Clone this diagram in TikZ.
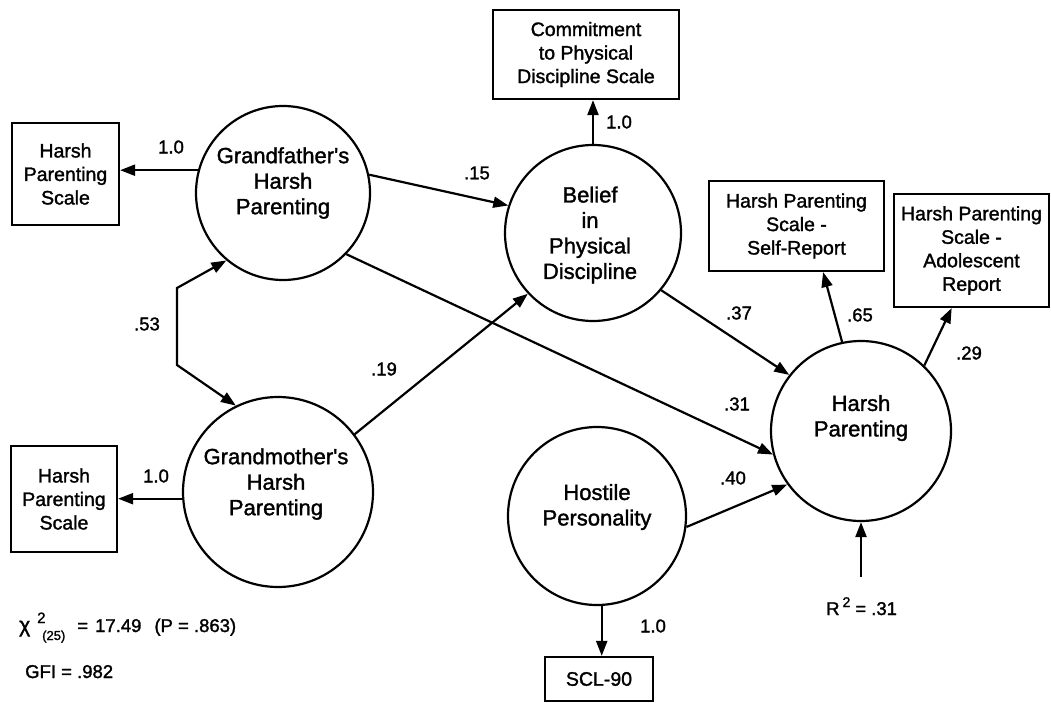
\documentclass[tikz,border=0pt]{standalone}
\usepackage{fontspec}
\setmainfont{Liberation Sans}
\newfontfamily\txtfont[FakeBold=1.5]{Liberation Sans}
\usetikzlibrary{arrows.meta,calc}
\begin{document}
\begin{tikzpicture}[x=1pt,y=-1pt,
  lat/.style={circle,draw,line width=2.2pt,inner sep=0pt},
  ind/.style={rectangle,draw,line width=2.2pt,inner sep=0pt,align=center,font=\txtfont\fontsize{19.5}{23.5}\selectfont},
  ltxt/.style={align=center,font=\txtfont\fontsize{22}{25.5}\selectfont,inner sep=0pt},
  coef/.style={font=\txtfont\fontsize{18.5}{20}\selectfont,inner sep=0pt},
  conn/.style={line width=2.2pt,-{Triangle[length=15pt,width=11pt]}},
  dconn/.style={line width=2.2pt,{Triangle[length=15pt,width=11pt]}-{Triangle[length=15pt,width=11pt]}},
]
\path[use as bounding box] (0,0) rectangle (1051,703);

% latent variables
\node[lat,minimum size=174pt] (gf) at (283,193) {};
\node[lat,minimum size=190pt] (gm) at (278,492) {};
\node[lat,minimum size=176pt] (bel) at (593,233) {};
\node[lat,minimum size=178pt] (hos) at (597,516) {};
\node[lat,minimum size=180pt] (hp) at (861,431) {};

\node[ltxt] (gft) at (283,183) {Grandfather's\\Harsh\\Parenting};
\node[ltxt] (gmt) at (276,484) {Grandmother's\\Harsh\\Parenting};
\node[ltxt] (belt) at (590,235) {Belief\\in\\Physical\\Discipline};
\node[ltxt] (host) at (597,507) {Hostile\\Personality};
\node[ltxt] (hpt) at (861,418) {Harsh\\Parenting};

% indicators
\node[ind,minimum width=107pt,minimum height=102pt] (gfb) at (65.5,174) {Harsh\\Parenting\\Scale};
\node[ind,minimum width=106pt,minimum height=106pt] (gmb) at (64,499) {Harsh\\Parenting\\Scale};
\node[ind,minimum width=186pt,minimum height=89pt] (com) at (586,54.5) {Commitment\\to Physical\\Discipline Scale};
\node[ind,minimum width=175pt,minimum height=90pt] (sr) at (796.5,226) {Harsh Parenting\\Scale -\\Self-Report};
\node[ind,minimum width=155pt,minimum height=113pt] (ad) at (971.5,250.5) {Harsh Parenting\\Scale -\\Adolescent\\Report};
\node[ind,minimum width=108pt,minimum height=44pt] (scl) at (599,679) {SCL-90};

% connectors
\draw[conn] (gf.165) -- (gf.165 -| gfb.east);
\draw[conn] (gm.184) -- (gm.184 -| gmb.east);
\draw[conn] (gf.12) -- (bel.162);
\draw[conn] (gf.-44) -- (hp.195);
\draw[conn] (gm.37) -- (bel.223);
\draw[conn] (bel.north) -- (bel.north |- com.south);
\draw[conn] (bel.-40) -- (hp.142);
\draw[conn] (hos.-7.5) -- (hp.216.5);
\draw[conn] (hos.-87) -- (hos.-87 |- scl.north);
\draw[conn] (hp.102) -- (sr.-60);
\draw[conn] (hp.46) -- (ad.-109);
\coordinate (r2) at (861,577);
\draw[conn] (r2) -- (hp.south);
\coordinate (c1) at (177,288);
\coordinate (c2) at (177,365);
\draw[dconn] (gf.230.6) -- (c1) -- (c2) -- (gm.116.6);

% coefficients
\node[coef] (l1) at (171,147) {1.0};
\node[coef] (l2) at (156,476) {1.0};
\node[coef] (l3) at (147,324) {.53};
\node[coef] (l4) at (477,173) {.15};
\node[coef] (l5) at (384,369) {.19};
\node[coef] (l6) at (619,122) {1.0};
\node[coef] (l7) at (739,313) {.37};
\node[coef] (l8) at (737,404) {.31};
\node[coef] (l9) at (733,478) {.40};
\node[coef] (l10) at (860,315) {.65};
\node[coef] (l11) at (969,353) {.29};
\node[coef] (l12) at (653,626) {1.0};
\node[coef,anchor=base west] (rsq) at (826,615) {R\kern3pt\raisebox{8pt}{\fontsize{14}{14}\selectfont 2}\kern5pt= .31};

% fit statistics
\node[coef,anchor=base west] (chi) at (19,632) {\fontsize{21}{21}\selectfont χ\kern7pt\rlap{\raisebox{9pt}{\fontsize{15}{15}\selectfont 2}}\kern5pt\raisebox{-8pt}{\fontsize{13}{13}\selectfont (25)}\kern12pt\fontsize{18.5}{20}\selectfont=\kern7pt17.49\kern13pt(P = .863)};
\node[coef,anchor=base west] (gfi) at (25,678) {GFI = .982};
\end{tikzpicture}
\end{document}
